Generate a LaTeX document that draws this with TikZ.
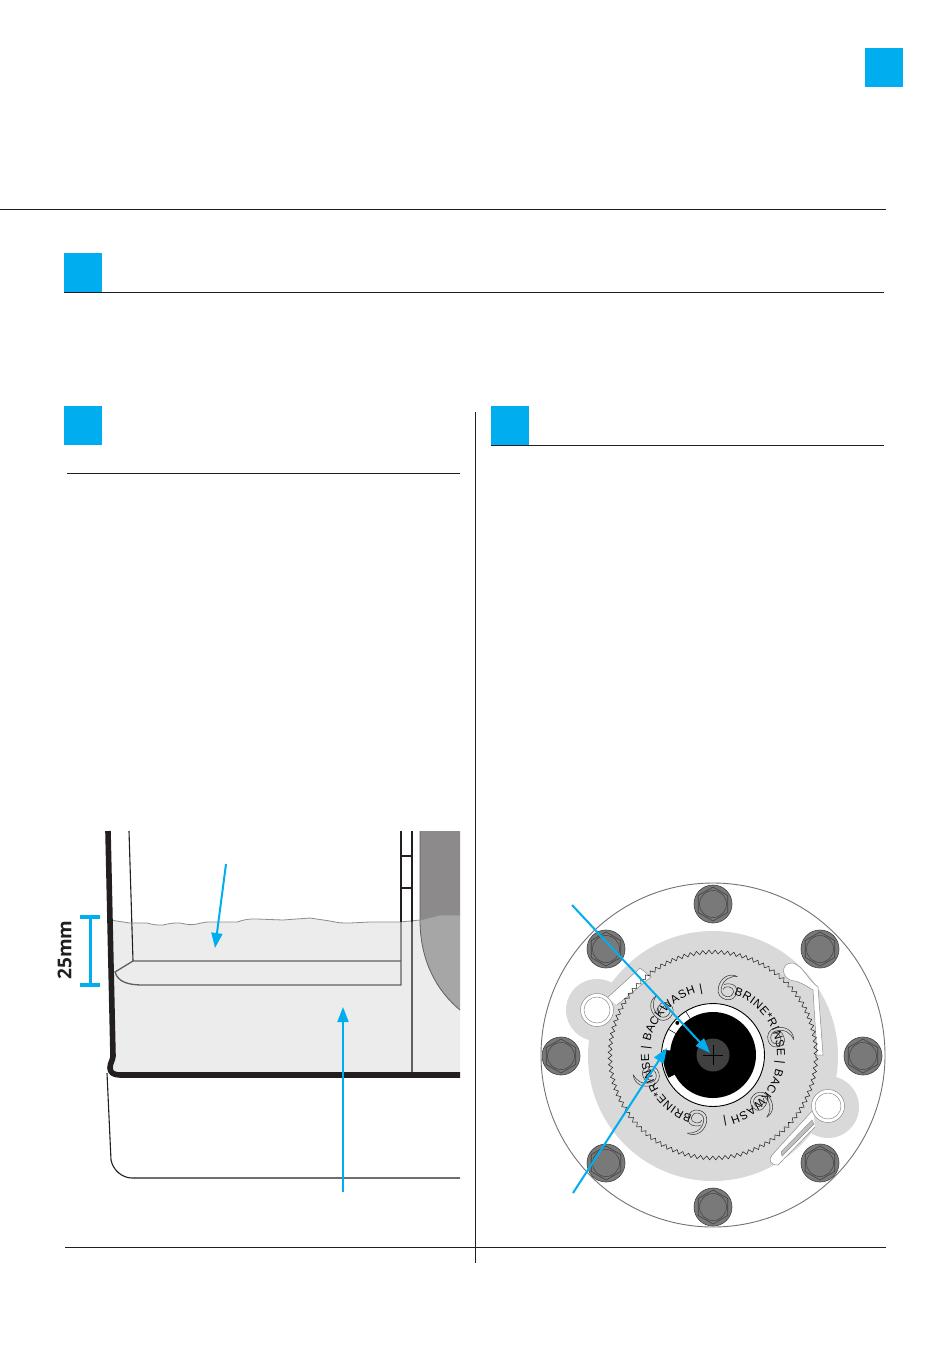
\documentclass[tikz,border=0pt]{standalone}
\usepackage{fontspec}
\usepackage{xcolor}
\usepackage{tikz}
\usetikzlibrary{arrows.meta,decorations.text,decorations.pathmorphing}
\setmainfont{Liberation Sans}
\newfontfamily\dimfont{Open Sans}
\definecolor{vlvblue}{HTML}{00AEEF}
\definecolor{vlvdark}{HTML}{231F20}
\definecolor{vlvgray}{HTML}{5F5F5F}
\definecolor{vlvwater}{HTML}{ECECEC}
\definecolor{vlvplate}{HTML}{D9D9D9}
\definecolor{vlvbolt}{HTML}{797979}
\definecolor{vlvblock}{HTML}{8C8A8A}
\definecolor{vlvblocklow}{HTML}{A6A6A6}
\definecolor{vlvhub}{HTML}{404040}
\tikzset{
  tabbox/.style={fill=vlvblue,draw=none,minimum width=38pt,minimum height=39pt,inner sep=0pt},
  pagerule/.style={draw=vlvdark,line width=0.8pt},
  wallline/.style={draw=vlvdark,line width=5.6pt,line join=round},
  thinline/.style={draw=vlvdark,line width=1.1pt},
  trayline/.style={draw=vlvgray,line width=1.3pt},
  waveline/.style={draw=black!45,line width=0.8pt},
  callout/.style={-{Stealth[length=15pt,width=11pt,inset=0pt]},draw=vlvblue,line width=2pt},
  dimline/.style={draw=vlvblue,line width=3.8pt},
  slotline/.style={draw=black!45,line width=0.5pt,fill=white},
  pics/boltmark/.style={code={
    \draw[fill=vlvbolt,draw=black!75,line width=0.6pt] (0,0) circle (19);
    \draw[draw=black!75,line width=0.6pt] (30:17) -- (90:17) -- (150:17) -- (210:17) -- (270:17) -- (330:17) -- cycle;
    \draw[draw=black!75,line width=0.5pt] (0,0) circle (13.5);
  }},
  pics/sixmark/.style={code={
    \draw[draw=black!80,line width=0.5pt] (6,12) .. controls (-3,14) and (-10,7) .. (-10,-3) .. controls (-10,-10) and (-5,-13) .. (0,-13) .. controls (6,-13) and (9,-9) .. (9,-4) .. controls (9,2) and (4,4) .. (0,3) .. controls (-2,3) and (-4,2) .. (-5,1);
    \draw[draw=black!80,line width=0.5pt] (6,12) .. controls (0,11) and (-7,7) .. (-7,-3) .. controls (-7,-8) and (-3,-10) .. (0,-10) .. controls (4,-10) and (6,-7) .. (6,-4) .. controls (6,-1) and (3,0) .. (0,0) .. controls (-3,0) and (-5,-2) .. (-5,-4);
  }}
}
\begin{document}
\begin{tikzpicture}[x=1pt,y=-1pt]
  \useasboundingbox (0,0) rectangle (950,1348);

  % page furniture
  \node[tabbox] (tabpage) at (883.5,67.5) {};
  \node[tabbox] (tabintro) at (83,273) {};
  \node[tabbox] (tabtank) at (83,425.5) {};
  \node[tabbox] (tabvalve) at (510,425.5) {};
  \draw[pagerule] (0,209.5) -- (886,209.5);
  \draw[pagerule] (64,292.5) -- (884,292.5);
  \draw[pagerule] (67,473.5) -- (460,473.5);
  \draw[pagerule] (491,445.5) -- (884,445.5);
  \draw[pagerule] (65,1247.5) -- (886,1247.5);
  \draw[pagerule] (475.5,412) -- (475.5,1263);

  % tank
  \fill[vlvwater] (110,920) .. controls (120,922) .. (130,923) -- (147,923) .. controls (155,925) .. (163,925) .. controls (172,923) .. (180,923) .. controls (190,925) .. (197,924) .. controls (205,922) .. (213,922) -- (237,922) .. controls (247,919) .. (257,919) -- (283,920) -- (310,918) .. controls (320,919) .. (330,921) .. controls (340,923) .. (350,923) -- (370,922) -- (400,922) -- (420,920) .. controls (430,917) .. (440,915) -- (460,915) -- (460,1075) -- (112,1075) -- cycle;
  \fill[vlvblock] (420,921) -- (440,915) -- (460,915) -- (460,831) -- (420,831) -- cycle;
  \fill[vlvblocklow] (420,920) .. controls (430,917) .. (440,915) -- (460,915) -- (460,1010) .. controls (438,992) and (420,962) .. (420,920) -- cycle;
  \draw[draw=vlvgray,line width=0.8pt] (420,831) -- (420,920) .. controls (420,962) and (438,992) .. (460,1010);
  \draw[waveline] (110,920) .. controls (120,922) .. (130,923) -- (147,923) .. controls (155,925) .. (163,925) .. controls (172,923) .. (180,923) .. controls (190,925) .. (197,924) .. controls (205,922) .. (213,922) -- (237,922) .. controls (247,919) .. (257,919) -- (283,920) -- (310,918) .. controls (320,919) .. (330,921) .. controls (340,923) .. (350,923) -- (370,922) -- (400,922) -- (420,920) .. controls (430,917) .. (440,915) -- (460,915);

  \draw[thinline] (129,831) -- (133,961);
  \draw[thinline] (401,831) -- (401,922);
  \draw[trayline] (401,922) -- (401,985) -- (143,985) .. controls (128,985) and (118,982) .. (115,972) -- (133,961) -- (401,961);
  \draw[thinline] (412,831) -- (412,922);
  \draw[draw=vlvgray,line width=1.1pt] (412,922) -- (412,1073);
  \foreach \rungy in {856,888} {
    \draw[thinline] (401,\rungy) -- (412,\rungy);
  }

  \draw[thinline] (107,1073) -- (111,1160) .. controls (113,1170) and (122,1178) .. (132,1178) -- (460,1178);
  \draw[wallline] (108,831) -- (113,1056) .. controls (113,1060) and (110,1063) .. (110,1068) .. controls (110,1072) and (113,1075) .. (120,1075) -- (460,1075);

  \coordinate (waterfrom) at (226,864);
  \coordinate (waterto) at (215,948);
  \coordinate (saltfrom) at (343,1192);
  \coordinate (saltto) at (343,1007);
  \draw[callout] (waterfrom) -- (waterto);
  \draw[callout] (saltfrom) -- (saltto);

  \coordinate (dimtop) at (90.5,917);
  \coordinate (dimbot) at (90.5,985);
  \draw[dimline] (dimtop) -- (dimbot);
  \draw[dimline] (80,917) -- (100,917);
  \draw[dimline] (80,985) -- (100,985);
  \node[text=vlvdark,font=\dimfont\bfseries\fontsize{19}{19}\selectfont,rotate=90] (dimlabel) at (64.5,950) {25mm};

  % valve, plate and ears
  \draw[draw=black!55,line width=0.9pt,fill=white] (713,1055) circle (172);
  \fill[vlvplate] (597,1010) circle (31);
  \fill[vlvplate] (828,1107) circle (31);
  \fill[vlvplate] (713,1056) circle (125);

  \foreach \boltpos in {(713,904),(820,949),(863,1056),(820,1163),(713,1207),(606,1163),(561,1056),(606,949)} {
    \pic at \boltpos {boltmark};
  }

  \draw[slotline] (607,998) -- (640,968) -- (651,977) -- (617,1005);
  \draw[slotline] (597,1010) circle (16.5);
  \draw[slotline] (597,1010) circle (13);
  \draw[slotline] (793,963) .. controls (803,966) and (808,980) .. (818,987) -- (823,1055) -- (817,1055) -- (813,990) .. controls (805,985) and (800,982) .. (795,981) .. controls (780,980) and (780,962) .. (793,963) -- cycle;
  \draw[slotline] (813,1110) -- (772,1155) .. controls (768,1160) and (770,1165) .. (778,1165) -- (815,1127);
  \draw[draw=black!45,line width=0.4pt,fill=black!25] (812,1120) -- (781,1152) -- (782,1156) -- (814,1124) -- cycle;
  \draw[slotline] (828,1106) circle (16.5);
  \draw[slotline] (828,1106) circle (13);

  \begin{scope}[shift={(713,1055)},y=1pt]
    \draw[draw=black!85,line width=0.55pt,decorate,decoration={zigzag,segment length=6.2pt,amplitude=1.9pt}] (0,0) circle (103);
    \foreach \ringrot in {0,180} {
      \path[decorate,decoration={text along path,text format delimiters={[}{]},text align={fit to path},text={[\fontsize{11.5}{11.5}\selectfont]BRINE*RINSE | BACKWASH |}}]
        (71+\ringrot:64) arc[start angle=71+\ringrot,end angle=-81+\ringrot,radius=64];
    }
    \foreach \sixang in {77,138,198,256,315,15} {
      \pic[rotate=\sixang-90] at (\sixang:70) {sixmark};
    }
    \draw[draw=black,line width=0.9pt,fill=white] (0,0) circle (51.5);
    \fill[black] (0,0) circle (43);
    \fill[black] (174:50) arc[start angle=174,end angle=207,radius=50] -- (207:42) -- (174:42) -- cycle;
    \draw[draw=black,line width=0.5pt] (150:42) -- (150:51);
    \draw[draw=black,line width=0.5pt] (122:43) -- (122:51);
    \fill[black] (138:48) circle (2);
    \fill[vlvhub] (0,0) circle (16.5);
    \draw[draw=black,line width=0.7pt] (-10,0) -- (10,0);
    \draw[draw=black,line width=0.7pt] (0,-10) -- (0,10);
  \end{scope}

  \coordinate (screwfrom) at (572,905);
  \coordinate (screwto) at (710,1053);
  \coordinate (notchfrom) at (573,1193);
  \coordinate (notchto) at (667,1048);
  \draw[callout] (screwfrom) -- (screwto);
  \draw[callout] (notchfrom) -- (notchto);
\end{tikzpicture}
\end{document}
